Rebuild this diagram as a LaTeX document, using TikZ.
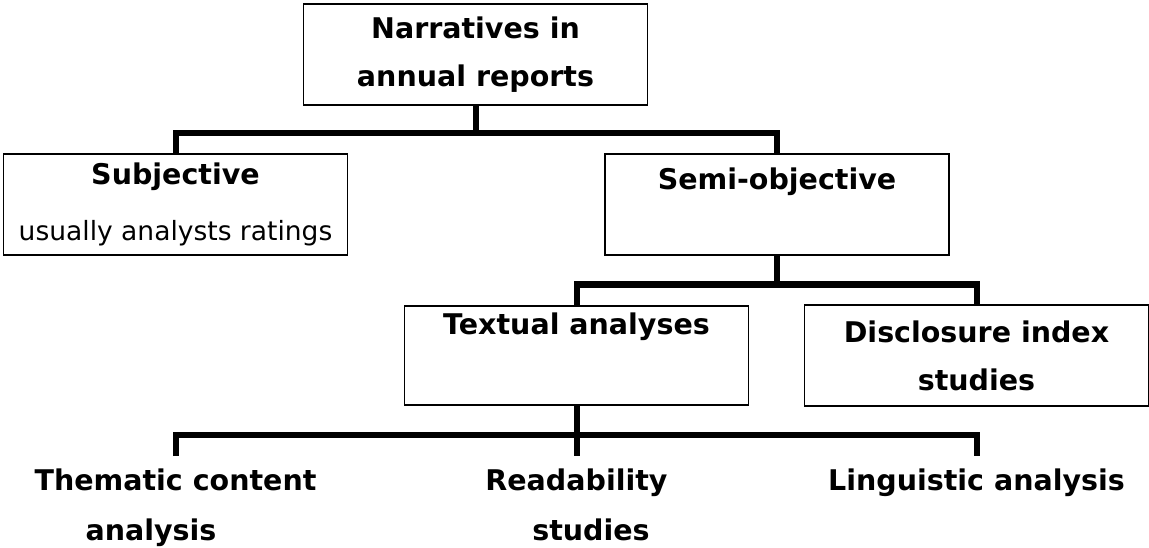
\documentclass[tikz,border=0pt]{standalone}
\usepackage{fontspec}
\setmainfont{DejaVu Sans}
\begin{document}
\begin{tikzpicture}[x=1pt,y=-1pt,
    box/.style={draw, line width=1.3pt, minimum width=344pt, minimum height=101pt,
        inner sep=0pt, align=center, font=\bfseries\fontsize{28.5}{48}\selectfont},
    title/.style={anchor=base, inner sep=0pt, font=\bfseries\fontsize{28.5}{48}\selectfont},
    leaf/.style={anchor=north, inner sep=0pt, outer ysep=13pt, align=center,
        font=\bfseries\fontsize{28.5}{50}\selectfont},
    conn/.style={line width=6pt}]
    \useasboundingbox (0,0) rectangle (1149,548);

    \node[box] (narr) at (475.5,54.5) {Narratives in\\annual reports};
    \node[box] (subj) at (175.5,204.5)
        {Subjective\\[8pt]{\mdseries\fontsize{26.5}{48}\selectfont usually analysts ratings}};
    \node[box] (semi) at (777,204.5) {};
    \node[title] (semitxt) at (777,190) {Semi-objective};
    \node[box, minimum height=99pt] (textual) at (576.5,355.5) {};
    \node[title] (textualtxt) at (576.5,334) {Textual analyses};
    \node[box] (disc) at (976.5,355.5) {Disclosure index\\studies};

    \node[leaf] (them) at (175.5,456) {Thematic content\\analysis\makebox[49pt]{}};
    \node[leaf] (read) at (576.5,456) {Readability\\\makebox[29pt]{}studies};
    \node[leaf] (ling) at (976.5,456) {Linguistic analysis};

    \coordinate (j1) at (475.5,133.5);
    \coordinate (j2) at (777,284.5);
    \coordinate (j3) at (576.5,435);

    \draw[conn] (narr.south) -- (j1);
    \draw[conn] (subj.north) |- (j1) -| (semi.north);
    \draw[conn] (semi.south) -- (j2);
    \draw[conn] (textual.north) |- (j2) -| (disc.north);
    \draw[conn] (textual.south) -- (read.north);
    \draw[conn] (them.north) |- (j3) -| (ling.north);
\end{tikzpicture}
\end{document}
